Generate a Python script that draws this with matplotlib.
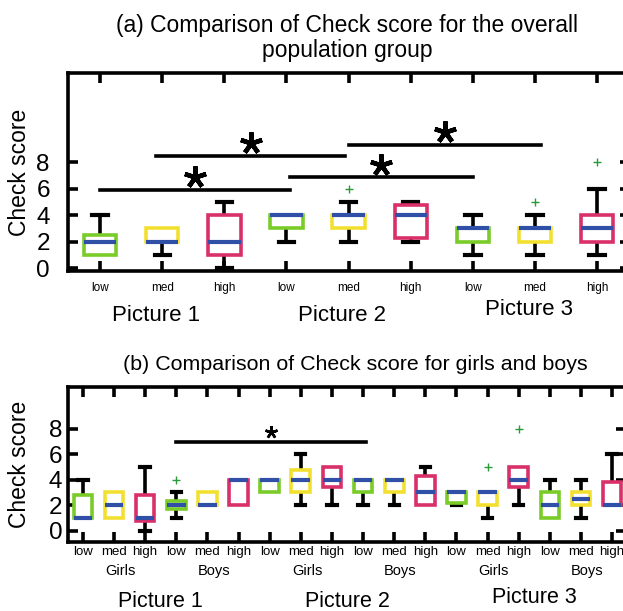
import matplotlib
matplotlib.use('agg')
import matplotlib.pyplot as plt
import matplotlib.transforms as mtransforms

plt.rcParams['font.family'] = ['Liberation Sans', 'DejaVu Sans']

GREEN = '#7acc29'
YELLOW = '#f2e030'
PINK = '#d9306a'
BLUE = '#3050a8'
FLIER = '#2a9a3a'

# (a) overall population: 9 boxes (low/med/high for Pictures 1-3)
a_levels = ['low', 'med', 'high'] * 3
a_pictures = ['Picture 1', 'Picture 2', 'Picture 3']
a_q1 = [1, 2, 1, 3, 3, 2.25, 2, 2, 2]
a_med = [2, 2, 2, 4, 4, 4, 3, 3, 3]
a_q3 = [2.5, 3, 4, 4, 4, 4.8, 3, 3, 4]
a_lo = [1, 1, 0, 2, 2, 2, 1, 1, 1]
a_hi = [4, 3, 5, 4, 5, 5, 4, 4, 6]
a_fliers = [[], [], [], [], [6], [], [], [5], [8]]
a_sig = [(1, 4.05, 5.9), (1.9, 4.95, 8.45), (4.05, 7.0, 6.85), (5.0, 8.1, 9.3)]

# (b) girls and boys: 18 boxes
b_levels = ['low', 'med', 'high'] * 6
b_groups = ['Girls', 'Boys'] * 3
b_q1 = [1, 1, 0.75, 1.7, 2, 2, 3, 3, 3.4, 3, 3, 2, 2.2, 2, 3.4, 1, 2, 2]
b_med = [1, 2, 1, 2, 2, 4, 4, 4, 4, 4, 4, 3, 3, 3, 4, 2, 2.5, 2]
b_q3 = [2.8, 3, 2.8, 2.3, 3, 4, 4, 4.8, 5, 4, 4, 4.3, 3, 3, 5, 3, 3, 3.8]
b_lo = [1, 1, 0, 1, 2, 2, 3, 2, 2, 2, 2, 2, 2, 1, 2, 1, 1, 2]
b_hi = [4, 3, 5, 3, 3, 4, 4, 6, 5, 4, 4, 5, 3, 3, 5, 4, 4, 6]
b_fliers = [[], [], [], [4], [], [], [], [], [], [], [], [], [], [5], [8], [], [], []]
b_sig = [(4, 10.1, 7.0)]

COLORS = [GREEN, YELLOW, PINK]


def draw_boxes(ax, q1, med, q3, lo, hi, fliers, width, capw):
    stats = []
    for i in range(len(med)):
        stats.append(dict(q1=q1[i], med=med[i], q3=q3[i], whislo=lo[i],
                          whishi=hi[i], fliers=fliers[i]))
    pos = list(range(1, len(med) + 1))
    res = ax.bxp(stats, positions=pos, widths=width, capwidths=capw,
                 showfliers=True, patch_artist=True,
                 boxprops=dict(linewidth=2.6, facecolor='white'),
                 whiskerprops=dict(color='black', linewidth=2.6),
                 capprops=dict(color='black', linewidth=3),
                 medianprops=dict(color=BLUE, linewidth=3),
                 flierprops=dict(marker='+', markeredgecolor=FLIER,
                                 markersize=6, markeredgewidth=1))
    for i, b in enumerate(res['boxes']):
        b.set_edgecolor(COLORS[i % 3])
        b.set_zorder(3)
        # no cap where the whisker stops at the box edge
        if lo[i] >= q1[i]:
            res['caps'][2 * i].set_visible(False)
        if hi[i] <= q3[i]:
            res['caps'][2 * i + 1].set_visible(False)
    for m in res['medians']:
        m.set_zorder(4)
    return pos


def style_axes(ax, ypad):
    for s in ax.spines.values():
        s.set_linewidth(2.6)
    ax.tick_params(direction='in', length=7, width=2.6, top=True, right=True,
                   labelsize=17.5, pad=4)
    ax.tick_params(axis='y', pad=ypad)
    ax.set_yticks([0, 2, 4, 6, 8])
    ax.set_ylabel('Check score', fontsize=16.5)
    ax.yaxis.set_label_coords(-0.066, 0.5)


def sig_bar(ax, x0, x1, y, dy, size):
    ax.plot([x0, x1], [y, y], color='black', linewidth=2.6, clip_on=False)
    ax.plot([(x0 + x1) / 2], [y + dy], linestyle='none', marker=(5, 2, 0),
            markersize=size, markeredgewidth=size / 5, color='black',
            clip_on=False)


fig = plt.figure(figsize=(6.23, 6.11), dpi=100)

# panel (a)
ax1 = fig.add_axes([0.109, 0.5565, 0.902, 0.324])
pos = draw_boxes(ax1, a_q1, a_med, a_q3, a_lo, a_hi, a_fliers, 0.52, 0.25)
style_axes(ax1, 13)
ax1.set_xlim(0.48, 9.53)
ax1.set_ylim(-0.2, 14.7)
ax1.set_xticks(pos)
ax1.set_xticklabels(a_levels)
ax1.tick_params(axis='x', labelsize=8.5, pad=8)
tr1 = mtransforms.blended_transform_factory(ax1.transData, ax1.transAxes)
for k, name in enumerate(a_pictures):
    dy = 0.03 if k == 2 else 0
    ax1.text(2 + 3 * k - 0.1, -0.17 + dy, name, transform=tr1, ha='center',
             va='top', fontsize=16)
for x0, x1, y in a_sig:
    sig_bar(ax1, x0, x1, y, 0.95, 16)
fig.text(0.557, 0.9476, '(a) Comparison of Check score for the overall',
         ha='center', va='baseline', fontsize=16.5)
fig.text(0.557, 0.907, 'population group',
         ha='center', va='baseline', fontsize=16.5)

# panel (b)
ax2 = fig.add_axes([0.109, 0.113, 0.896, 0.2536])
pos = draw_boxes(ax2, b_q1, b_med, b_q3, b_lo, b_hi, b_fliers, 0.6, 0.3)
style_axes(ax2, 4)
ax2.set_xlim(0.52, 18.45)
ax2.set_ylim(-0.9, 11.3)
ax2.set_xticks(pos)
ax2.set_xticklabels(b_levels)
ax2.tick_params(axis='x', labelsize=9.5, pad=3)
tr2 = mtransforms.blended_transform_factory(ax2.transData, ax2.transAxes)
for k, name in enumerate(b_groups):
    ax2.text(2 + 3 * k + 0.2, -0.14, name, transform=tr2, ha='center',
             va='top', fontsize=10.5)
for k, name in enumerate(a_pictures):
    ax2.text(3.5 + 6 * k, -0.315 + (0.025 if k == 2 else 0), name,
             transform=tr2, ha='center', va='top', fontsize=15.5)
for x0, x1, y in b_sig:
    sig_bar(ax2, x0, x1, y, 0.75, 9)
fig.text(0.570, 0.3944, '(b) Comparison of Check score for girls and boys',
         ha='center', va='baseline', fontsize=15.4)

fig.savefig('out.png', dpi=100)
